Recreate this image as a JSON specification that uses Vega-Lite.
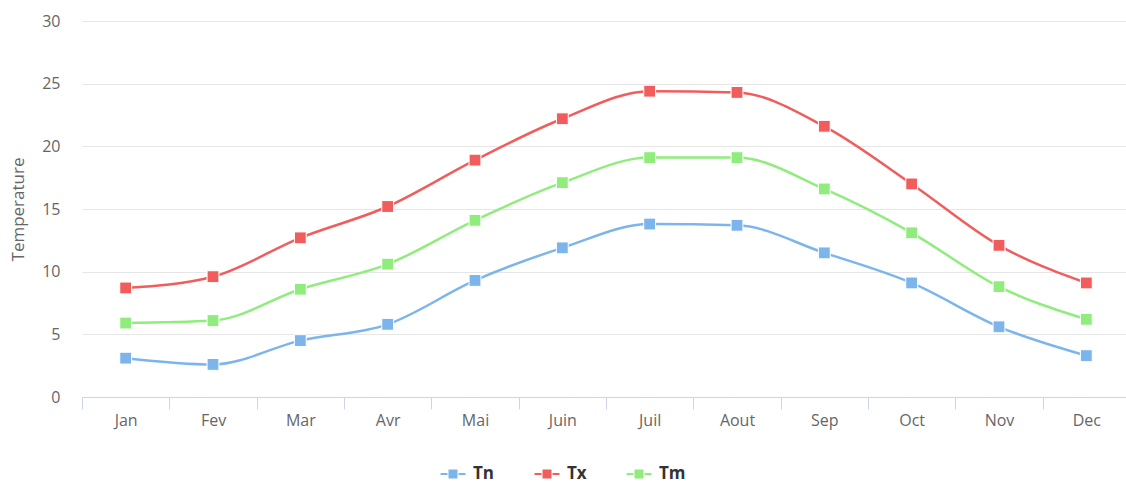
{
  "$schema": "https://vega.github.io/schema/vega-lite/v6.json",
  "autosize": "none",
  "padding": {"left": 82, "top": 21, "right": 0, "bottom": 87},
  "width": 1048,
  "height": 376,
  "background": "white",
  "config": {
    "view": {"stroke": null},
    "font": "Open Sans"
  },
  "data": {
    "values": [
      {"month": "Jan", "series": "Tn", "value": 3.1},
      {"month": "Fev", "series": "Tn", "value": 2.6},
      {"month": "Mar", "series": "Tn", "value": 4.5},
      {"month": "Avr", "series": "Tn", "value": 5.8},
      {"month": "Mai", "series": "Tn", "value": 9.3},
      {"month": "Juin", "series": "Tn", "value": 11.9},
      {"month": "Juil", "series": "Tn", "value": 13.8},
      {"month": "Aout", "series": "Tn", "value": 13.7},
      {"month": "Sep", "series": "Tn", "value": 11.5},
      {"month": "Oct", "series": "Tn", "value": 9.1},
      {"month": "Nov", "series": "Tn", "value": 5.6},
      {"month": "Dec", "series": "Tn", "value": 3.3},
      {"month": "Jan", "series": "Tx", "value": 8.7},
      {"month": "Fev", "series": "Tx", "value": 9.6},
      {"month": "Mar", "series": "Tx", "value": 12.7},
      {"month": "Avr", "series": "Tx", "value": 15.2},
      {"month": "Mai", "series": "Tx", "value": 18.9},
      {"month": "Juin", "series": "Tx", "value": 22.2},
      {"month": "Juil", "series": "Tx", "value": 24.4},
      {"month": "Aout", "series": "Tx", "value": 24.3},
      {"month": "Sep", "series": "Tx", "value": 21.6},
      {"month": "Oct", "series": "Tx", "value": 17.0},
      {"month": "Nov", "series": "Tx", "value": 12.1},
      {"month": "Dec", "series": "Tx", "value": 9.1},
      {"month": "Jan", "series": "Tm", "value": 5.9},
      {"month": "Fev", "series": "Tm", "value": 6.1},
      {"month": "Mar", "series": "Tm", "value": 8.6},
      {"month": "Avr", "series": "Tm", "value": 10.6},
      {"month": "Mai", "series": "Tm", "value": 14.1},
      {"month": "Juin", "series": "Tm", "value": 17.1},
      {"month": "Juil", "series": "Tm", "value": 19.1},
      {"month": "Aout", "series": "Tm", "value": 19.1},
      {"month": "Sep", "series": "Tm", "value": 16.6},
      {"month": "Oct", "series": "Tm", "value": 13.1},
      {"month": "Nov", "series": "Tm", "value": 8.8},
      {"month": "Dec", "series": "Tm", "value": 6.2}
    ]
  },
  "encoding": {
    "x": {
      "field": "month",
      "type": "ordinal",
      "sort": ["Jan", "Fev", "Mar", "Avr", "Mai", "Juin", "Juil", "Aout", "Sep", "Oct", "Nov", "Dec"],
      "scale": {"type": "band", "paddingInner": 0, "paddingOuter": 0},
      "axis": {
        "title": null,
        "labelAngle": 0,
        "labelFontSize": 16,
        "labelColor": "#666666",
        "labelPadding": 3,
        "domainColor": "#ccd6eb",
        "domainWidth": 1,
        "tickColor": "#ccd6eb",
        "tickSize": 12,
        "tickBand": "extent",
        "grid": false
      }
    },
    "y": {
      "field": "value",
      "type": "quantitative",
      "scale": {"domain": [0, 30], "nice": false},
      "axis": {
        "title": "Temperature",
        "titleFontSize": 17,
        "titleFontWeight": "normal",
        "titleColor": "#666666",
        "titlePadding": 14,
        "values": [0, 5, 10, 15, 20, 25, 30],
        "labelFontSize": 16,
        "labelColor": "#666666",
        "labelPadding": 22,
        "ticks": false,
        "domain": false,
        "gridColor": "#e6e6e6",
        "gridWidth": 1
      }
    },
    "color": {
      "field": "series",
      "type": "nominal",
      "scale": {"domain": ["Tn", "Tx", "Tm"], "range": ["#7cb5ec", "#f15c5c", "#90ed7d"]},
      "legend": {
        "title": null,
        "orient": "none",
        "direction": "horizontal",
        "legendX": 360,
        "legendY": 442,
        "labelFontSize": 17,
        "labelFontWeight": "bold",
        "labelColor": "#333333",
        "symbolType": "M-1.25,0H-0.55M0.55,0H1.25M-0.35,-0.35H0.35V0.35H-0.35Z",
        "symbolSize": 400,
        "symbolStrokeWidth": 2,
        "columnPadding": 35,
        "labelOffset": 9,
        "encode": {
          "symbols": {
            "update": {
              "fill": {"scale": "color", "field": "value"},
              "stroke": {"scale": "color", "field": "value"},
              "opacity": {"value": 1}
            }
          }
        }
      }
    }
  },
  "layer": [
    {
      "mark": {"type": "line", "interpolate": "monotone", "strokeWidth": 2.5}
    },
    {
      "mark": {"type": "point", "shape": "square", "filled": true, "size": 140, "stroke": "white", "strokeWidth": 1, "opacity": 1}
    }
  ]
}
